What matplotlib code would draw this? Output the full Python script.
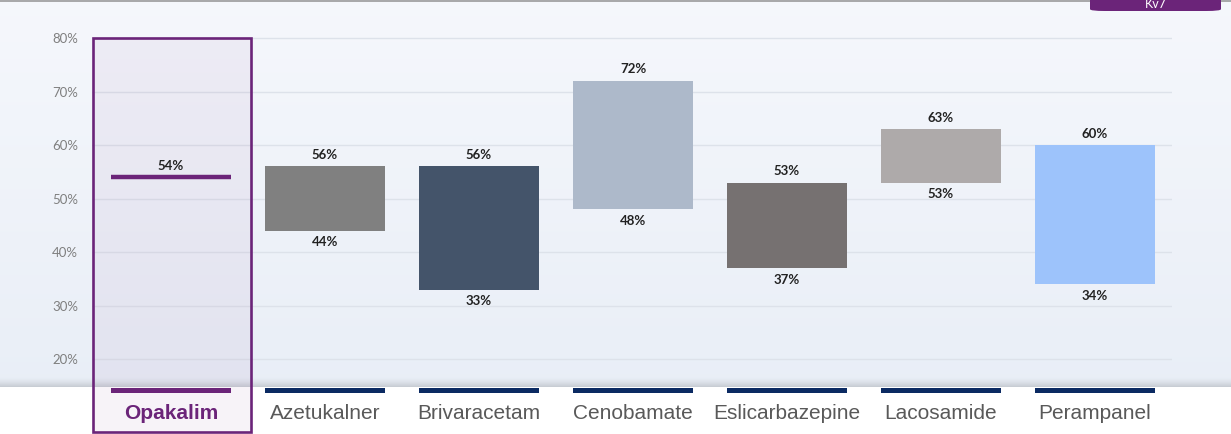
"""Kv7 response-range comparison: Opakalim vs. other ASMs (floating bars)."""

import numpy as np
import matplotlib
matplotlib.use("Agg")
import matplotlib.pyplot as plt
from matplotlib.patches import Rectangle, FancyBboxPatch

# --------------------------------------------------------------------- #
# Data
# --------------------------------------------------------------------- #
drugs = ["Opakalim", "Azetukalner", "Brivaracetam", "Cenobamate",
         "Eslicarbazepine", "Lacosamide", "Perampanel"]
low = [54, 44, 33, 48, 37, 53, 34]
high = [54, 56, 56, 72, 53, 63, 60]
yticks = [20, 30, 40, 50, 60, 70, 80]
badge_text = "Kv7"

bar_colors = ["#6b2479", "#808080", "#44546a", "#adb9ca",
              "#767171", "#aeaaaa", "#9dc3fb"]
purple = "#6b2479"
navy = "#0b2a62"

W, H = 1231, 434
fig = plt.figure(figsize=(W / 100, H / 100), dpi=100)
fig.patch.set_facecolor("white")

# --------------------------------------------------------------------- #
# Background panel (gradient + soft shadow at its lower edge)
# --------------------------------------------------------------------- #
panel_bottom = 47 / H
bg = fig.add_axes([0, panel_bottom, 1, 1 - panel_bottom], zorder=0)
bg.axis("off")
t = np.linspace(0, 1, 400)[:, None]
top_c = np.array([0.962, 0.970, 0.988])
bot_c = np.array([0.914, 0.935, 0.968])
grad = top_c * (1 - t[..., None]) + bot_c * t[..., None]
grad = np.repeat(grad, 2, axis=1)
# shadow in the last few pixels
shade = np.clip((t - 0.975) / 0.025, 0, 1)[..., None] ** 1.5
grad = grad * (1 - 0.14 * shade)
bg.imshow(grad, aspect="auto", extent=[0, 1, 0, 1], origin="upper")
bg.set_xlim(0, 1)
bg.set_ylim(0, 1)

# --------------------------------------------------------------------- #
# Main axes
# --------------------------------------------------------------------- #
ax = fig.add_axes([92 / W, panel_bottom, 1080 / W, 1 - panel_bottom], zorder=2)
ax.set_facecolor("none")
x = np.arange(len(drugs))
ax.set_xlim(-0.513, 6.5)
ax.set_ylim(14.8, 87.1)

for s in ax.spines.values():
    s.set_visible(False)
ax.set_yticks(yticks)
ax.set_yticklabels([f"{v}%" for v in yticks], family="Lato", fontsize=9.5,
                   color="#7f7f7f")
ax.tick_params(axis="y", length=0, pad=10)
ax.grid(axis="y", color="#dde2ea", lw=1)
ax.set_axisbelow(True)

# Opakalim highlight box (extends below the panel)
ax.add_patch(Rectangle((-0.508, 6.4), 1.03, 80 - 6.4, facecolor=purple,
                       alpha=0.05, edgecolor="none", clip_on=False, zorder=1))
ax.add_patch(Rectangle((-0.508, 6.4), 1.03, 80 - 6.4, facecolor="none",
                       edgecolor=purple, lw=1.9, clip_on=False, zorder=5))

bw = 0.78
lab_kw = dict(family="Lato", fontweight="bold", fontsize=9.5, color="#222222")
for i, (lo, hi, c) in enumerate(zip(low, high, bar_colors)):
    if i == 0:
        ax.hlines(hi, i - bw / 2, i + bw / 2, color=c, lw=3.2, zorder=4)
        ax.text(i, hi + 1.0, f"{hi}%", ha="center", va="bottom", **lab_kw)
        continue
    ax.bar(i, hi - lo, bottom=lo, width=bw, color=c, zorder=3)
    ax.text(i, hi + 1.0, f"{hi}%", ha="center", va="bottom", **lab_kw)
    ax.text(i, lo - 1.0, f"{lo}%", ha="center", va="top", **lab_kw)

# underline bars beneath the panel
ax.bar(x, 0.94, bottom=13.64, width=bw,
       color=[purple] + [navy] * (len(drugs) - 1), clip_on=False, zorder=4)

ax.set_xticks(x)
ax.set_xticklabels(drugs, family="Liberation Sans", fontsize=15,
                   color="#595959")
ax.tick_params(axis="x", length=0, pad=12)
lab0 = ax.get_xticklabels()[0]
lab0.set_color(purple)
lab0.set_fontweight("bold")

# --------------------------------------------------------------------- #
# Header decorations
# --------------------------------------------------------------------- #
fig.add_artist(plt.Line2D([0, 1], [1 - 1.2 / H, 1 - 1.2 / H],
                          color="#9a9a9a", lw=1.2, zorder=6))
fig.add_artist(FancyBboxPatch((1090 / W, 1 - 11 / H), 131 / W, 22 / H,
                              boxstyle="round,pad=0,rounding_size=0.012",
                              transform=fig.transFigure, facecolor=purple,
                              edgecolor="none", zorder=7,
                              mutation_aspect=H / W))
fig.text(1156 / W, 1 - 10 / H, badge_text, ha="center", va="bottom",
         color="white", fontsize=9, family="Lato", zorder=8)

fig.savefig("out.png", dpi=100)
